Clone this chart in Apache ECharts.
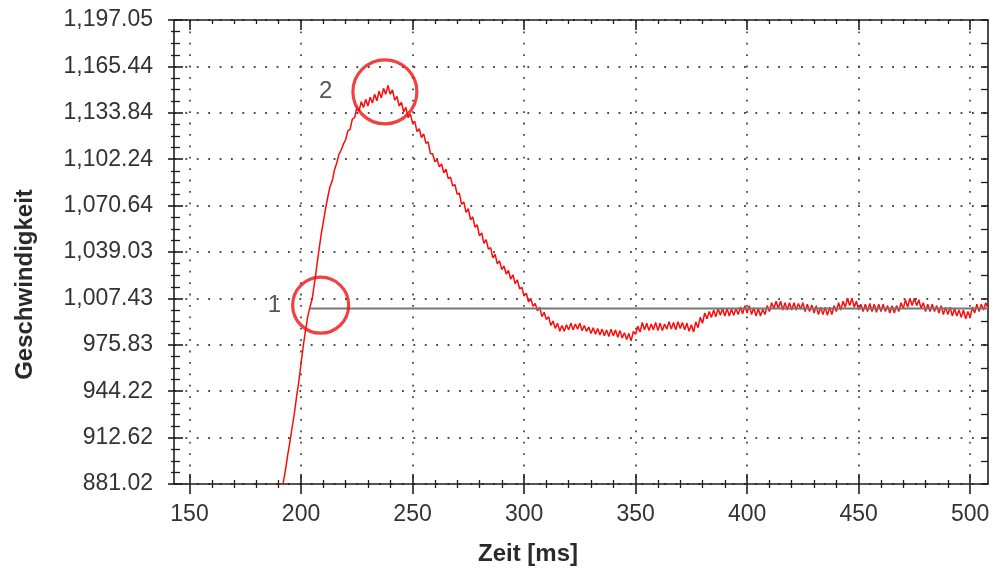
<!DOCTYPE html>
<html><head><meta charset="utf-8">
<script src="https://cdn.jsdelivr.net/npm/echarts@6/dist/echarts.min.js"></script>
<style>html,body{margin:0;padding:0;background:#fff}#c{width:994px;height:571px}</style>
</head><body><div id="c"></div>
<script>
// ---- data ----
const T_START = 191;          // ms of first sample
const T_STEP = 1;             // ms between samples
const speed = [
  872, 881.5, 890.5, 900.5, 909.5, 919.5, 929, 940.5, 950.5, 963,
  975, 985.5, 995, 1001.5, 1007, 1017.5, 1028.5, 1040, 1050.5, 1059.5,
  1068.5, 1076.5, 1083.5, 1087.5, 1095, 1099.5, 1105.5, 1108.5, 1112.5, 1115.5,
  1121.5, 1122.5, 1129.5, 1130.5, 1137, 1135, 1141.5, 1137.5, 1143, 1138.5,
  1144.5, 1140.5, 1146.5, 1142, 1148.5, 1144, 1150.5, 1146.5, 1152.5, 1146.5,
  1149.5, 1142.5, 1145, 1138.5, 1141, 1134.5, 1137.5, 1130.5, 1133, 1127,
  1128, 1121, 1123, 1117, 1119.5, 1113, 1114, 1106, 1106, 1100.5,
  1102, 1097, 1099, 1093, 1095.5, 1089, 1090, 1084, 1085, 1078.5,
  1079, 1071.5, 1073, 1066, 1068.5, 1061, 1063, 1056, 1057.5, 1050,
  1052, 1045, 1047.5, 1041, 1042, 1035, 1037.5, 1031, 1033, 1027,
  1029.5, 1024, 1026.5, 1020.5, 1023.5, 1017.5, 1020, 1014, 1015, 1009,
  1011, 1005, 1007.5, 1002, 1004, 999, 1001.5, 995, 998, 993,
  995, 989, 992, 987, 990.5, 985, 989, 985, 989.5, 986,
  990.5, 986, 990, 986.5, 990.5, 985.5, 989, 985, 988, 983.5,
  987.5, 983, 987, 982.5, 986.5, 982, 986, 981.5, 986.5, 982,
  986, 981, 985.5, 980.5, 984, 979.5, 983.5, 978.5, 985, 983,
  988.5, 984.5, 991, 986, 990.5, 985.5, 990, 986, 991, 985.5,
  990.5, 985.5, 990, 986.5, 991.5, 986.5, 991, 986, 991.5, 987,
  991, 986, 990.5, 985, 989.5, 984.5, 991.5, 987.5, 994.5, 990.5,
  997.5, 993.5, 998.5, 994.5, 999.5, 995, 1000.5, 996, 1000.5, 995.5,
  1000.5, 995.5, 1000, 996, 1000.5, 996.5, 1001.5, 997, 1002.5, 997.5,
  1002.5, 996.5, 1001, 995.5, 1000.5, 995.5, 1000, 996.5, 1002.5, 998.5,
  1004.5, 1000.5, 1005.5, 1000.5, 1005.5, 999.5, 1004.5, 999.5, 1004.5, 999.5,
  1004.5, 999.5, 1004, 1000, 1004.5, 998.5, 1003.5, 998.5, 1003, 997.5,
  1002.5, 996.5, 1001.5, 996.5, 1001.5, 996, 1001.5, 996.5, 1002.5, 998.5,
  1004.5, 999.5, 1005.5, 1001.5, 1007.5, 1002.5, 1007.5, 1001.5, 1005.5, 999.5,
  1003.5, 998.5, 1003.5, 998.5, 1004, 998.5, 1003.5, 998, 1003.5, 998.5,
  1003.5, 998.5, 1002.5, 997.5, 1002.5, 997.5, 1002.5, 998.5, 1004.5, 1000.5,
  1006.5, 1001.5, 1007.5, 1002.5, 1007.5, 1002.5, 1006.5, 1000.5, 1004.5, 998.5,
  1003.5, 998.5, 1003.5, 998.5, 1002.5, 997.5, 1002.5, 996.5, 1001.5, 996.5,
  1001.5, 995.5, 1000.5, 995.5, 999.5, 994.5, 999.5, 993.5, 998.5, 994.5,
  1001.5, 997.5, 1003.5, 998.5, 1003.5, 999.5, 1004.5, 1000.5
];
const setpointValue = 1000.6;
const setpointRange = [204, 508];
const markerNames = ['1', '2'];
const markerTimes = [208.8, 237.6];
const markerValues = [1002.8, 1148.1];
const xTicks = [150, 200, 250, 300, 350, 400, 450, 500];
const xMinorTicks = [160,170,180,190,210,220,230,240,260,270,280,290,310,320,330,340,360,370,380,390,410,420,430,440,460,470,480,490];
const yTickLabels = ['881.02','912.62','944.22','975.83','1,007.43','1,039.03','1,070.64','1,102.24','1,133.84','1,165.44','1,197.05'];
const Y_MIN = 881.02, Y_MAX = 1197.05, Y_STEP = 31.603;
const X_MIN = 143.05, X_MAX = 508;

// ---- chart ----
const FONT = '"Liberation Sans", Arial, sans-serif';
const AX = '#1e1e1e';
const dotted = { color: '#4a4a4a', width: 1.8, type: [1.8, 9.6] };

const curve = speed.map((v, i) => [T_START + i * T_STEP, v]);

function xAx(extra) {
  return Object.assign({
    type: 'value', min: X_MIN, max: X_MAX, gridIndex: 0, position: 'bottom',
    axisLine: { show: false, onZero: false },
    axisTick: { show: false }, axisLabel: { show: false },
    splitLine: { show: false }, minorTick: { show: false }
  }, extra);
}
function yAx(extra) {
  return Object.assign({
    type: 'value', min: Y_MIN, max: Y_MAX, interval: Y_STEP, position: 'left',
    axisLine: { show: false, onZero: false },
    axisTick: { show: false }, axisLabel: { show: false },
    splitLine: { show: false }, minorTick: { show: false }
  }, extra);
}

const option = {
  animation: false,
  backgroundColor: '#ffffff',
  grid: { left: 174, right: 6, top: 20, bottom: 86, containLabel: false },
  xAxis: [
    xAx({
      axisLine: { show: true, onZero: false, lineStyle: { color: AX, width: 1.6 } },
      axisTick: { show: true, customValues: xTicks, length: 10, lineStyle: { color: AX, width: 1.6 } },
      axisLabel: { show: true, customValues: xTicks, fontSize: 23, color: '#333', fontFamily: FONT, margin: 19 },
      splitLine: { show: true, lineStyle: dotted },
      name: 'Zeit [ms]', nameLocation: 'middle', nameGap: 58,
      nameTextStyle: { fontSize: 24, fontWeight: 'bold', color: '#2a2a2a', fontFamily: FONT, padding: [0, 106, 0, 0] }
    }),
    xAx({ axisTick: { show: true, inside: true, customValues: xTicks, length: 10, lineStyle: { color: AX, width: 1.6 } } }),
    xAx({ axisTick: { show: true, customValues: xMinorTicks, length: 4, lineStyle: { color: AX, width: 1.3 } } }),
    xAx({ axisTick: { show: true, inside: true, customValues: xMinorTicks, length: 4, lineStyle: { color: AX, width: 1.3 } } }),
    xAx({ position: 'top',
      axisLine: { show: true, onZero: false, lineStyle: { color: AX, width: 1.6 } },
      axisTick: { show: true, inside: true, customValues: xTicks, length: 10, lineStyle: { color: AX, width: 1.6 } } }),
    xAx({ position: 'top', axisTick: { show: true, inside: true, customValues: xMinorTicks, length: 4, lineStyle: { color: AX, width: 1.3 } } })
  ],
  yAxis: [
    yAx({
      axisLine: { show: true, onZero: false, lineStyle: { color: AX, width: 1.6 } },
      axisTick: { show: true, length: 6, lineStyle: { color: AX, width: 1.6 } },
      minorTick: { show: true, splitNumber: 4, length: 3, lineStyle: { color: AX, width: 1.3 } },
      axisLabel: { show: true, fontSize: 23, color: '#333', fontFamily: FONT, margin: 21,
        formatter: v => yTickLabels[Math.round((v - Y_MIN) / Y_STEP)] },
      splitLine: { show: true, lineStyle: dotted },
      name: 'Geschwindigkeit', nameLocation: 'middle', nameGap: 137,
      nameTextStyle: { fontSize: 24, fontWeight: 'bold', color: '#2a2a2a', fontFamily: FONT, padding: [0, 65, 0, 0] }
    }),
    yAx({
      axisTick: { show: true, inside: true, length: 9, lineStyle: { color: AX, width: 1.6 } },
      minorTick: { show: true, splitNumber: 4, length: 6, lineStyle: { color: AX, width: 1.3 } }
    }),
    yAx({ position: 'right',
      axisLine: { show: true, onZero: false, lineStyle: { color: AX, width: 1.6 } },
      axisTick: { show: true, inside: true, length: 7, lineStyle: { color: AX, width: 1.6 } },
      minorTick: { show: true, splitNumber: 2, length: 7, lineStyle: { color: AX, width: 1.3 } }
    })
  ],
  series: [
    {
      type: 'line', xAxisIndex: 0, yAxisIndex: 0, data: curve, showSymbol: false, symbol: 'none',
      lineStyle: { color: '#ff0a0a', width: 1.5 }, clip: true, z: 3
    },
    {
      type: 'line', xAxisIndex: 0, yAxisIndex: 0, symbol: 'none',
      data: setpointRange.map(t => [t, setpointValue]),
      lineStyle: { color: '#767676', width: 2 }, z: 4
    },
    {
      type: 'scatter', xAxisIndex: 0, yAxisIndex: 0, symbol: 'circle', z: 5,
      data: markerNames.map((n, i) => ({
        name: n, value: [markerTimes[i], markerValues[i]],
        symbolSize: i === 0 ? 56 : 64,
        label: { distance: i === 0 ? 10 : 19 }
      })),
      itemStyle: { color: 'rgba(0,0,0,0)', borderColor: '#ee1111', borderWidth: 3.2 },
      label: { show: true, position: 'left', formatter: p => p.name, fontSize: 24, color: '#2a2a2a', fontFamily: FONT },
      emphasis: { disabled: true }
    }
  ]
};
echarts.init(document.getElementById('c'), null, { renderer: 'canvas' }).setOption(option);
</script></body></html>
